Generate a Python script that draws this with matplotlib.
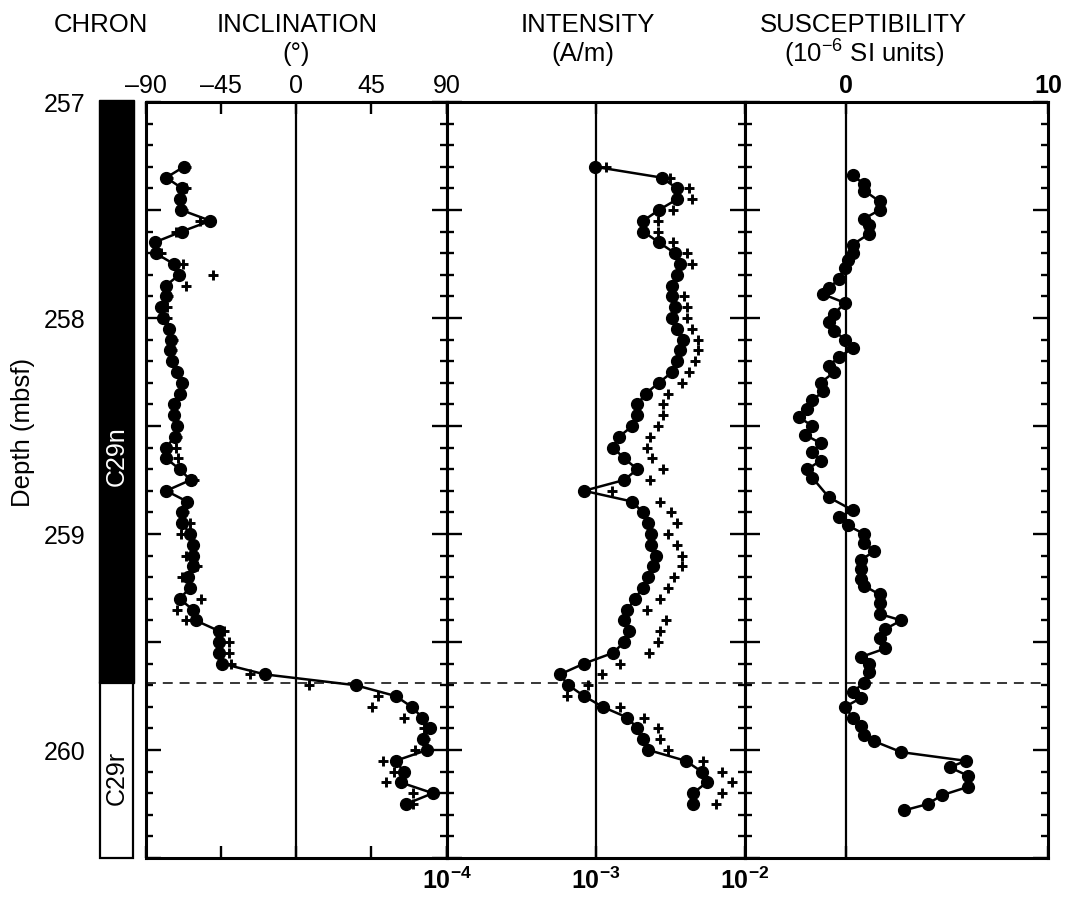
import matplotlib
matplotlib.use('Agg')
import matplotlib.pyplot as plt
from matplotlib.patches import Rectangle
from matplotlib.ticker import MultipleLocator, NullLocator

plt.rcParams['font.family'] = ['Liberation Sans', 'DejaVu Sans']
plt.rcParams['mathtext.fontset'] = 'custom'
plt.rcParams['mathtext.rm'] = 'Liberation Sans'
plt.rcParams['mathtext.it'] = 'Liberation Sans:italic'
plt.rcParams['mathtext.bf'] = 'Liberation Sans:bold'

# ---------------- data ----------------
depth_top, depth_bottom = 257.0, 260.5
chron_boundary = 259.69
chron_names = ['C29n', 'C29r']
depth_ticks = [257, 258, 259, 260]

sample_depth = [257.30, 257.35, 257.40, 257.45, 257.50, 257.55, 257.60, 257.65, 257.70, 257.75,
                257.80, 257.85, 257.90, 257.95, 258.00, 258.05, 258.10, 258.15, 258.20, 258.25,
                258.30, 258.35, 258.40, 258.45, 258.50, 258.55, 258.60, 258.65, 258.70, 258.75,
                258.80, 258.85, 258.90, 258.95, 259.00, 259.05, 259.10, 259.15, 259.20, 259.25,
                259.30, 259.35, 259.40, 259.45, 259.50, 259.55, 259.60, 259.65, 259.70, 259.75,
                259.80, 259.85, 259.90, 259.95, 260.00, 260.05, 260.10, 260.15, 260.20, 260.25]

inc_clean = [-67.3, -77.9, -68.3, -69.9, -68.9, -51.4, -68.7, -84.9, -84.3, -73.3,
             -70.1, -78.1, -78.1, -81.3, -79.7, -76.3, -74.9, -75.7, -74.7, -71.7,
             -68.7, -69.9, -73.3, -73.3, -71.7, -72.9, -77.9, -77.9, -69.9, -63.3,
             -77.9, -65.3, -68.3, -68.3, -63.7, -62.0, -62.0, -62.0, -65.0, -63.7,
             -69.9, -62.0, -60.3, -46.0, -46.0, -46.0, -44.4, -18.8, 35.5, 59.5,
             69.1, 75.5, 80.0, 76.0, 78.4, 59.5, 64.4, 62.5, 81.8, 65.9]

inc_nrm = [-66.0, -77.0, -66.3, -69.0, -68.0, -57.4, -72.3, -84.0, -81.3, -67.7,
           -50.0, -65.9, -77.0, -77.7, -77.7, -76.0, -74.0, -74.3, -74.0, -71.0,
           -68.0, -69.0, -73.0, -73.0, -71.0, -71.3, -72.3, -70.7, -70.0, -61.4,
           -77.0, -65.3, -67.4, -63.4, -69.3, -62.0, -66.3, -59.3, -68.3, -64.0,
           -56.8, -71.3, -66.3, -43.4, -40.4, -40.4, -39.0, -27.8, 7.5, 48.9,
           45.5, 64.8, 76.4, 77.4, 71.4, 52.1, 58.4, 53.9, 70.1, 70.1]

int_clean = [0.99e-3, 2.76e-3, 3.51e-3, 3.51e-3, 2.65e-3, 2.08e-3, 2.08e-3, 2.65e-3, 3.39e-3, 3.66e-3,
             3.51e-3, 3.25e-3, 3.25e-3, 3.39e-3, 3.25e-3, 3.51e-3, 3.86e-3, 3.66e-3, 3.51e-3, 3.25e-3,
             2.65e-3, 2.16e-3, 1.90e-3, 1.90e-3, 1.76e-3, 1.43e-3, 1.31e-3, 1.55e-3, 1.90e-3, 1.55e-3,
             0.834e-3, 1.76e-3, 2.06e-3, 2.25e-3, 2.33e-3, 2.33e-3, 2.53e-3, 2.43e-3, 2.25e-3, 2.06e-3,
             1.83e-3, 1.63e-3, 1.55e-3, 1.68e-3, 1.55e-3, 1.31e-3, 0.834e-3, 0.575e-3, 0.655e-3, 0.834e-3,
             1.11e-3, 1.63e-3, 1.90e-3, 2.06e-3, 2.25e-3, 4.00e-3, 5.12e-3, 5.53e-3, 4.50e-3, 4.50e-3]

int_nrm = [1.18e-3, 3.14e-3, 4.23e-3, 4.43e-3, 3.30e-3, 2.60e-3, 2.60e-3, 3.30e-3, 4.06e-3, 4.43e-3,
           3.50e-3, 3.25e-3, 3.92e-3, 4.06e-3, 4.06e-3, 4.43e-3, 4.81e-3, 4.81e-3, 4.62e-3, 4.23e-3,
           3.76e-3, 3.06e-3, 2.83e-3, 2.83e-3, 2.60e-3, 2.31e-3, 2.19e-3, 2.39e-3, 2.83e-3, 2.31e-3,
           1.29e-3, 2.69e-3, 3.19e-3, 3.48e-3, 3.06e-3, 3.48e-3, 3.79e-3, 3.79e-3, 3.34e-3, 3.06e-3,
           2.69e-3, 2.19e-3, 2.94e-3, 2.69e-3, 2.60e-3, 2.28e-3, 1.45e-3, 1.10e-3, 0.89e-3, 0.638e-3,
           1.45e-3, 2.10e-3, 2.60e-3, 2.69e-3, 3.06e-3, 5.20e-3, 6.97e-3, 8.20e-3, 6.97e-3, 6.38e-3]

sus_depth = [257.34, 257.38, 257.41, 257.46, 257.50, 257.54, 257.57, 257.61, 257.66, 257.70,
             257.73, 257.77, 257.82, 257.86, 257.89, 257.93, 257.98, 258.02, 258.06, 258.10,
             258.14, 258.18, 258.22, 258.25, 258.30, 258.34, 258.38, 258.42, 258.46, 258.50,
             258.54, 258.58, 258.62, 258.66, 258.70, 258.74, 258.83, 258.89, 258.92, 258.96,
             259.00, 259.04, 259.08, 259.12, 259.16, 259.21, 259.24, 259.28, 259.32, 259.37,
             259.40, 259.44, 259.48, 259.53, 259.57, 259.60, 259.64, 259.69, 259.73, 259.76,
             259.80, 259.85, 259.89, 259.93, 259.96, 260.01, 260.05, 260.08, 260.12, 260.17,
             260.21, 260.25, 260.28]

sus_val = [0.33, 0.90, 0.90, 1.66, 1.66, 0.90, 1.15, 1.15, 0.33, 0.33,
           0.08, -0.05, -0.33, -0.85, -1.13, -0.05, -0.58, -0.85, -0.58, -0.05,
           0.33, -0.33, -0.85, -0.58, -1.25, -1.13, -1.66, -1.91, -2.32, -1.66,
           -2.04, -1.25, -1.66, -1.25, -1.91, -1.66, -0.85, 0.33, -0.33, 0.08,
           0.90, 0.90, 1.41, 0.73, 0.73, 0.73, 0.90, 1.66, 1.66, 1.66,
           2.74, 1.94, 1.66, 1.94, 0.73, 1.15, 1.15, 0.90, 0.33, 0.73,
           -0.05, 0.33, 0.73, 0.90, 1.41, 2.74, 5.93, 5.13, 6.06, 6.06,
           4.73, 4.05, 2.86]

inc_ticks = [-90, -45, 0, 45, 90]
inc_ticklabels = ['\u201390', '\u201345', '0', '45', '90']
int_ticks = [1e-4, 1e-3, 1e-2]
int_ticklabels = [r'$\mathbf{10^{-4}}$', r'$\mathbf{10^{-3}}$', r'$\mathbf{10^{-2}}$']
sus_ticks = [0, 10]
sus_ticklabels = ['0', '10']

# ---------------- layout ----------------
W, H = 1065, 899
fig = plt.figure(figsize=(W / 100, H / 100), dpi=100)


def fx(px):
    return px / W


def fy(py):
    return 1 - py / H


TOP, BOT = 102, 858


def add_ax(x0, x1):
    return fig.add_axes([fx(x0), fy(BOT), fx(x1) - fx(x0), fy(TOP) - fy(BOT)])


ax_inc = add_ax(146, 446.5)
ax_int = add_ax(446.5, 745)
ax_sus = add_ax(745, 1048)
ax_chr = add_ax(99, 134)

FS = 18
MS = 8.5
LW = 1.8

for ax in (ax_inc, ax_int, ax_sus):
    ax.set_ylim(depth_bottom, depth_top)
    for s in ax.spines.values():
        s.set_linewidth(2.2)
    ax.yaxis.set_major_locator(MultipleLocator(0.5))
    ax.yaxis.set_minor_locator(MultipleLocator(0.1))
    ax.tick_params(axis='y', which='both', direction='in', left=True, right=True,
                   labelleft=False, labelright=False)
    ax.tick_params(axis='y', which='major', length=11, width=1.7)
    ax.tick_params(axis='y', which='minor', length=5, width=1.7)
    ax.tick_params(axis='x', which='major', direction='in', top=True, bottom=True,
                   length=8.5, width=1.7, labelsize=FS, pad=3)
    ax.axhline(chron_boundary, color='k', lw=1.1, ls=(0, (6.5, 4.5)), zorder=2)

# Inclination
ax_inc.set_xlim(-90, 90)
ax_inc.set_xticks(inc_ticks)
ax_inc.set_xticklabels(inc_ticklabels)
ax_inc.tick_params(axis='x', labeltop=True, labelbottom=False)
ax_inc.axvline(0, color='k', lw=1.6, zorder=1)
ax_inc.plot(inc_nrm, sample_depth, '+', color='k', ms=7, mew=2.1, zorder=3)
ax_inc.plot(inc_clean, sample_depth, '-o', color='k', lw=LW, ms=MS, zorder=4)

# Intensity
ax_int.set_xscale('log')
ax_int.set_xlim(1e-4, 1e-2)
ax_int.set_xticks(int_ticks)
ax_int.set_xticklabels(int_ticklabels)
ax_int.xaxis.set_minor_locator(NullLocator())
ax_int.tick_params(axis='x', labeltop=False, labelbottom=True, pad=7)
ax_int.axvline(1e-3, color='k', lw=1.6, zorder=1)
ax_int.plot(int_nrm, sample_depth, '+', color='k', ms=7, mew=2.1, zorder=3)
ax_int.plot(int_clean, sample_depth, '-o', color='k', lw=LW, ms=MS, zorder=4)

# Susceptibility
ax_sus.set_xlim(-5, 10)
ax_sus.set_xticks(sus_ticks)
ax_sus.set_xticklabels(sus_ticklabels, fontweight='bold')
ax_sus.tick_params(axis='x', labeltop=True, labelbottom=False)
ax_sus.axvline(0, color='k', lw=1.6, zorder=1)
ax_sus.plot(sus_val, sus_depth, '-o', color='k', lw=LW, ms=MS, zorder=4)

# Chron column
ax_chr.set_xlim(0, 1)
ax_chr.set_ylim(depth_bottom, depth_top)
for s in ax_chr.spines.values():
    s.set_visible(False)
ax_chr.set_xticks([])
ax_chr.set_yticks(depth_ticks)
ax_chr.set_yticklabels([str(d) for d in depth_ticks])
ax_chr.tick_params(axis='y', length=0, pad=10, labelsize=FS)
ax_chr.add_patch(Rectangle((0, depth_top - 0.01), 1, chron_boundary - depth_top + 0.01,
                           facecolor='k', edgecolor='k', lw=1.0, clip_on=False))
ax_chr.add_patch(Rectangle((0.02, chron_boundary), 0.96, depth_bottom - chron_boundary,
                           facecolor='white', edgecolor='k', lw=1.6, clip_on=False))
ax_chr.text(0.5, 258.64, chron_names[0], color='white', rotation=90,
            ha='center', va='center', fontsize=FS)
ax_chr.text(0.5, 260.13, chron_names[1], color='k', rotation=90,
            ha='center', va='center', fontsize=FS)

# Headers
TS = 18.5
fig.text(fx(101), fy(25), 'CHRON', ha='center', va='center', fontsize=TS)
fig.text(fx(297), fy(25), 'INCLINATION', ha='center', va='center', fontsize=TS)
fig.text(fx(296), fy(54), '(\u00b0)', ha='center', va='center', fontsize=TS)
fig.text(fx(588), fy(25), 'INTENSITY', ha='center', va='center', fontsize=TS)
fig.text(fx(583), fy(54), '(A/m)', ha='center', va='center', fontsize=TS)
fig.text(fx(863), fy(25), 'SUSCEPTIBILITY', ha='center', va='center', fontsize=TS)
fig.text(fx(864), fy(54), r'(10$^{-6}$ SI units)', ha='center', va='center', fontsize=TS)
fig.text(fx(23), fy(432), 'Depth (mbsf)', rotation=90, ha='center', va='center', fontsize=18.5)

fig.savefig('out.png', dpi=100)
